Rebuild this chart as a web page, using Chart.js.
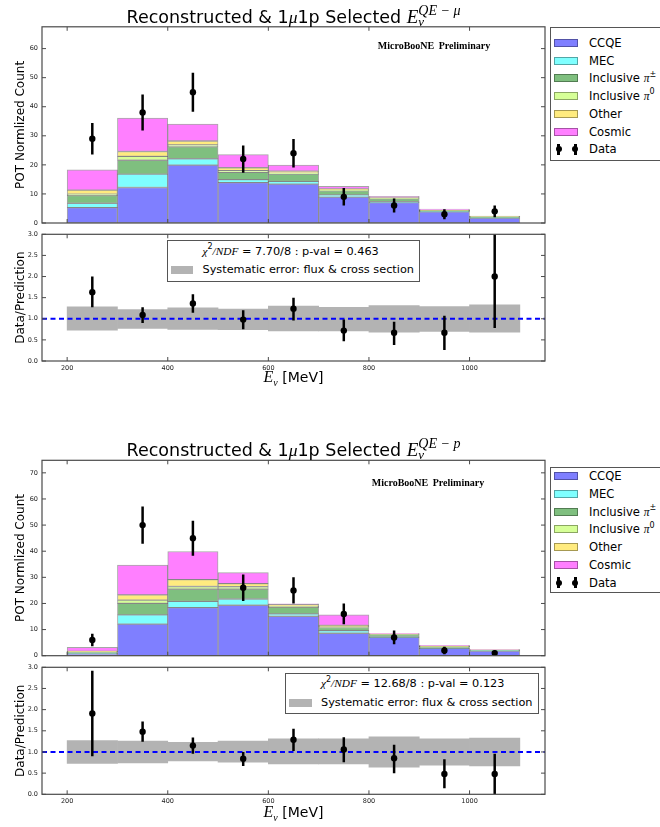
<!DOCTYPE html>
<html>
<head>
<meta charset="utf-8">
<title>Reconstructed &amp; 1μ1p selected neutrino energy</title>
<script src="https://cdn.jsdelivr.net/npm/chart.js@4.4.1/dist/chart.umd.min.js"></script>
<style>
  html, body { margin: 0; padding: 0; background: #fff; }
  body { width: 660px; height: 827px; position: relative; overflow: hidden;
         font-family: 'DejaVu Sans', sans-serif; color: #000; }
  canvas { position: absolute; left: 0; }
  .abs { position: absolute; white-space: nowrap; }
  .mi { font-family: 'Liberation Serif', serif; font-style: italic; }
  .title { left: 42px; width: 503px; text-align: center; font-size: 17.5px; line-height: 20px; }
  .title .E { font-size: 19px; }
  .ss { position: relative; display: inline-block; }
  .ss .sp { position: relative; top: -8px; font-size: 14px; line-height: 0; }
  .ss .sb { position: absolute; left: 0; top: 9px; font-size: 13px; line-height: 12px; }
  .tag { font-family: 'Liberation Serif', serif; font-weight: bold; font-size: 10px; line-height: 12px;
         transform: translate(-50%, -50%); word-spacing: 2px; }
  .box { position: absolute; border: 1px solid #555; background: #fff; box-sizing: border-box; }
  .row { font-size: 11.6px; line-height: 14px; }
  .row.small { font-size: 11.3px; }
  .row sup { font-size: 8px; line-height: 0; position: relative; top: -1px; }
  .patch { position: absolute; box-sizing: border-box; border: 1px solid rgba(0,0,0,0.35); }
  .ebar { position: absolute; width: 2.5px; background: #000; }
  .edot { position: absolute; width: 6px; height: 6px; border-radius: 50%; background: #000; }
  .xt { left: 42px; width: 503px; text-align: center; font-size: 14px; line-height: 16px; }
  .xt .E { font-size: 16px; }
  .xt sub { font-size: 10px; line-height: 0; }
</style>
</head>
<body>
<canvas id="mainMu"></canvas>
<canvas id="ratioMu"></canvas>
<canvas id="mainP"></canvas>
<canvas id="ratioP"></canvas>

<div class="abs title" style="top:7px">Reconstructed &amp; 1<span class="mi">μ</span>1p Selected <span class="mi E">E</span><span class="ss mi"><span class="sp">QE − μ</span><span class="sb">ν</span></span></div>
<div class="abs title" style="top:439.5px">Reconstructed &amp; 1<span class="mi">μ</span>1p Selected <span class="mi E">E</span><span class="ss mi"><span class="sp">QE − p</span><span class="sb">ν</span></span></div>

<div class="abs tag" style="left:434px; top:46px">MicroBooNE Preliminary</div>
<div class="abs tag" style="left:428px; top:482.5px">MicroBooNE Preliminary</div>

<div class="abs xt" style="top:369px"><span class="mi E">E<sub>ν</sub></span> [MeV]</div>
<div class="abs xt" style="top:803.5px"><span class="mi E">E<sub>ν</sub></span> [MeV]</div>

<script>
// ---- bins and axis ticks ----
const binCenters = [250, 350, 450, 550, 650, 750, 850, 950, 1050];
const xRange = [150, 1150];
const xTickValues = [200, 400, 600, 800, 1000];
const countTicksMu = [0, 10, 20, 30, 40, 50, 60];
const countTicksP = [0, 10, 20, 30, 40, 50, 60, 70];
const ratioTicks = [0, 0.5, 1, 1.5, 2, 2.5, 3];
const unity = 1.0;

// ---- E_nu^{QE-mu}: stacked prediction (POT normalized) ----
const muCCQE   = [5.3, 12.2, 19.9, 13.9, 13.4, 8.9, 7.0, 3.8, 1.7];
const muMEC    = [1.5, 4.6, 2.2, 1.0, 0.9, 0.8, 0.3, 0.1, 0.05];
const muPiPM   = [2.6, 4.8, 4.1, 2.5, 2.5, 1.4, 1.0, 0.3, 0.4];
const muPi0    = [0.5, 1.3, 0.7, 0.6, 0.4, 0.3, 0.2, 0.05, 0.05];
const muOther  = [1.4, 1.7, 1.3, 1.0, 0.6, 0.3, 0.2, 0.1, 0.05];
const muCosmic = [7.0, 11.5, 5.8, 4.5, 2.1, 0.9, 0.5, 0.4, 0.1];
const muData    = [29, 38, 45, 22, 24, 9, 6, 3, 4];
const muDataErr = [5.4, 6.2, 6.7, 4.7, 4.9, 3.0, 2.4, 1.7, 2.0];
// data / prediction
const muRatio   = [1.63, 1.09, 1.36, 0.98, 1.24, 0.72, 0.67, 0.67, 2.0];
const muRatioLo = [1.27, 0.90, 1.14, 0.75, 0.96, 0.47, 0.38, 0.26, 0.78];
const muRatioHi = [2.0, 1.27, 1.58, 1.20, 1.50, 0.98, 0.93, 1.07, 3.2];
const muSysLo   = [0.73, 0.77, 0.75, 0.74, 0.71, 0.71, 0.68, 0.70, 0.68];
const muSysHi   = [1.28, 1.22, 1.26, 1.23, 1.30, 1.27, 1.31, 1.29, 1.33];

// ---- E_nu^{QE-p}: stacked prediction (POT normalized) ----
const pCCQE   = [0.7, 12.1, 18.4, 19.3, 15.1, 8.6, 7.0, 2.8, 1.8];
const pMEC    = [0.1, 3.5, 2.4, 2.4, 0.9, 1.0, 0.2, 0.1, 0.05];
const pPiPM   = [0.6, 4.4, 4.7, 3.8, 2.5, 1.2, 0.9, 0.5, 0.3];
const pPi0    = [0.05, 1.3, 1.0, 0.9, 0.4, 0.3, 0.1, 0.05, 0.02];
const pOther  = [0.2, 2.0, 2.6, 1.2, 0.8, 0.5, 0.2, 0.1, 0.03];
const pCosmic = [1.6, 11.4, 10.8, 4.2, 0.2, 4.0, 0.05, 0.4, 0.1];
const pData    = [6, 50, 45, 26, 25, 16, 7, 2, 1];
const pDataErr = [2.4, 7.1, 6.7, 5.1, 5.0, 4.0, 2.6, 1.4, 1.0];
const pRatio   = [1.91, 1.48, 1.15, 0.84, 1.29, 1.06, 0.85, 0.48, 0.48];
const pRatioLo = [0.90, 1.24, 0.96, 0.67, 1.02, 0.76, 0.50, 0.14, 0.0];
const pRatioHi = [2.92, 1.72, 1.34, 1.00, 1.55, 1.35, 1.17, 0.83, 0.96];
const pSysLo   = [0.73, 0.74, 0.79, 0.76, 0.72, 0.72, 0.64, 0.69, 0.67];
const pSysHi   = [1.27, 1.26, 1.23, 1.26, 1.31, 1.31, 1.36, 1.31, 1.33];

// ---- legend text ----
const seriesNames = ['CCQE', 'MEC', 'Inclusive π±', 'Inclusive π0', 'Other', 'Cosmic'];
const legendHtml = ['CCQE', 'MEC', 'Inclusive <span class="mi">π</span><sup>±</sup>',
                    'Inclusive <span class="mi">π</span><sup>0</sup>', 'Other', 'Cosmic', 'Data'];
const chi2Mu = '7.70/8', pvalMu = '0.463';
const chi2P = '12.68/8', pvalP = '0.123';
const sysLabel = 'Systematic error: flux &amp; cross section';

// ---- styles ----
const seriesColors = ['#7f7fff', '#7fffff', '#7fbf7f', '#d6ff97', '#ffeb7f', '#ff7fff'];
const edgeColor = 'rgba(0,0,0,0.35)';
const bandColor = '#b3b3b3';

Chart.defaults.font.family = "'DejaVu Sans', sans-serif";

// axes frame with inward tick marks on all four sides
const frameTicks = {
  id: 'frameTicks',
  afterDraw(chart) {
    const { ctx, chartArea: a, scales: { x, y } } = chart;
    ctx.save();
    ctx.strokeStyle = '#4a4a4a';
    ctx.lineWidth = 1.2;
    ctx.strokeRect(a.left, a.top, a.right - a.left, a.bottom - a.top);
    ctx.lineWidth = 1;
    ctx.beginPath();
    const L = 4;
    x.ticks.forEach(t => {
      const px = x.getPixelForValue(t.value);
      ctx.moveTo(px, a.bottom); ctx.lineTo(px, a.bottom - L);
      ctx.moveTo(px, a.top); ctx.lineTo(px, a.top + L);
    });
    y.ticks.forEach(t => {
      const py = y.getPixelForValue(t.value);
      ctx.moveTo(a.left, py); ctx.lineTo(a.left + L, py);
      ctx.moveTo(a.right, py); ctx.lineTo(a.right - L, py);
    });
    ctx.stroke();
    ctx.restore();
  }
};

// vertical error bars, drawn just before the marker dataset they belong to
const errorBars = {
  id: 'errorBars',
  beforeDatasetDraw(chart, args) {
    const ds = chart.data.datasets[args.index];
    if (!ds.errLo) return;
    const { ctx, chartArea: a, scales: { x, y } } = chart;
    ctx.save();
    ctx.beginPath();
    ctx.rect(a.left, a.top, a.right - a.left, a.bottom - a.top);
    ctx.clip();
    ctx.strokeStyle = '#000';
    ctx.lineWidth = 2.5;
    ctx.beginPath();
    ds.data.forEach((p, i) => {
      const px = x.getPixelForValue(p.x);
      ctx.moveTo(px, y.getPixelForValue(ds.errLo[i]));
      ctx.lineTo(px, y.getPixelForValue(ds.errHi[i]));
    });
    ctx.stroke();
    ctx.restore();
  }
};

function placeCanvas(id, top, height) {
  const cv = document.getElementById(id);
  cv.width = 660; cv.height = height;
  cv.style.top = top + 'px';
  return cv;
}

function xScale(showLabels, axisHeight) {
  return {
    type: 'linear', min: xRange[0], max: xRange[1], offset: false,
    grid: { display: false, drawTicks: false }, border: { display: false },
    ticks: { display: showLabels, font: { size: 6.5, lineHeight: 1 }, color: '#222', padding: 4,
             maxRotation: 0, callback: v => String(v) },
    afterBuildTicks: s => { s.ticks = xTickValues.map(value => ({ value })); },
    afterFit: s => { s.height = axisHeight; }
  };
}

function yScale(max, tickValues, titleText, fmt) {
  return {
    type: 'linear', min: 0, max,
    grid: { display: false, drawTicks: false }, border: { display: false },
    ticks: { font: { size: 6.5, lineHeight: 1 }, color: '#222', padding: 4,
             callback: fmt || (v => String(v)) },
    afterBuildTicks: s => { s.ticks = tickValues.map(value => ({ value })); },
    title: { display: true, text: titleText, color: '#000',
             font: { size: 12 }, padding: { top: 13.5, bottom: 0 } },
    afterFit: s => { s.width = 42; }
  };
}

function histChart(id, top, height, areaTop, areaBottom, stacks, data, dataErr, yMax, yTicks) {
  const cv = placeCanvas(id, top, height);
  const datasets = [{
    type: 'scatter', label: 'Data', stack: 'data', order: 0,
    data: binCenters.map((x, i) => ({ x, y: data[i] })),
    errLo: data.map((v, i) => v - dataErr[i]),
    errHi: data.map((v, i) => v + dataErr[i]),
    pointRadius: 3.2, pointBackgroundColor: '#000', pointBorderWidth: 0
  }];
  stacks.forEach((vals, k) => datasets.push({
    type: 'bar', label: seriesNames[k], stack: 'mc', order: 1,
    data: binCenters.map((x, i) => ({ x, y: vals[i] })),
    backgroundColor: seriesColors[k], borderColor: edgeColor, borderWidth: 1,
    borderSkipped: false, barPercentage: 1, categoryPercentage: 1
  }));
  const xs = xScale(false, top + height - areaBottom);
  xs.stacked = true;
  const ys = yScale(yMax, yTicks, 'POT Normlized Count');
  ys.stacked = true;
  return new Chart(cv, {
    data: { datasets },
    options: {
      responsive: false, animation: false, events: [],
      layout: { padding: { top: areaTop - top, right: 660 - 545, left: 0, bottom: 0 } },
      plugins: { legend: { display: false }, tooltip: { enabled: false } },
      scales: { x: xs, y: ys }
    },
    plugins: [frameTicks, errorBars]
  });
}

function ratioChart(id, top, height, areaTop, areaBottom, ratio, lo, hi, sysLo, sysHi) {
  const cv = placeCanvas(id, top, height);
  const datasets = [
    { type: 'scatter', label: 'Data/Prediction', order: 0,
      data: binCenters.map((x, i) => ({ x, y: ratio[i] })),
      errLo: lo, errHi: hi,
      pointRadius: 3.2, pointBackgroundColor: '#000', pointBorderWidth: 0 },
    { type: 'line', label: 'unity', order: 1,
      data: xRange.map(x => ({ x, y: unity })),
      borderColor: '#0000ff', borderWidth: 2, borderDash: [5, 3.5], pointRadius: 0 },
    { type: 'bar', label: 'Systematic error', order: 2,
      data: binCenters.map((x, i) => ({ x, y: [sysLo[i], sysHi[i]] })),
      backgroundColor: bandColor, borderWidth: 0, barPercentage: 1, categoryPercentage: 1 }
  ];
  return new Chart(cv, {
    data: { datasets },
    options: {
      responsive: false, animation: false, events: [],
      layout: { padding: { top: areaTop - top, right: 660 - 545, left: 0, bottom: 0 } },
      plugins: { legend: { display: false }, tooltip: { enabled: false } },
      scales: {
        x: xScale(true, top + height - areaBottom),
        y: yScale(3, ratioTicks, 'Data/Prediction', v => v.toFixed(1))
      }
    },
    plugins: [frameTicks, errorBars]
  });
}

histChart('mainMu', 0, 232, 26.8, 223,
  [muCCQE, muMEC, muPiPM, muPi0, muOther, muCosmic], muData, muDataErr, 67.5, countTicksMu);
ratioChart('ratioMu', 226, 150, 234.3, 361, muRatio, muRatioLo, muRatioHi, muSysLo, muSysHi);
histChart('mainP', 436, 228, 460.3, 655.7,
  [pCCQE, pMEC, pPiPM, pPi0, pOther, pCosmic], pData, pDataErr, 74.8, countTicksP);
ratioChart('ratioP', 660, 150, 667.3, 794.3, pRatio, pRatioLo, pRatioHi, pSysLo, pSysHi);

// ---- HTML legends ----
function addEl(cls, style, html) {
  const d = document.createElement('div');
  d.className = cls;
  Object.assign(d.style, style);
  if (html) d.innerHTML = html;
  document.body.appendChild(d);
  return d;
}

function mainLegend(boxTop, boxHeight, firstRow, gap) {
  addEl('box', { left: '550px', top: boxTop + 'px', width: '130px', height: boxHeight + 'px' });
  legendHtml.forEach((html, k) => {
    const cy = firstRow + k * gap;
    if (k < seriesColors.length) {
      addEl('patch', { left: '554px', top: (cy - 4) + 'px', width: '24px', height: '8px',
                       background: seriesColors[k] });
    } else {
      [558.7, 575.3].forEach(mx => {
        addEl('ebar', { left: (mx - 1.25) + 'px', top: (cy - 5.5) + 'px', height: '11px' });
        addEl('edot', { left: (mx - 3) + 'px', top: (cy - 3) + 'px' });
      });
    }
    addEl('abs row', { left: '589px', top: (cy - 7) + 'px' }, html);
  });
}
mainLegend(26.7, 134, 43, 17.7);
mainLegend(466.7, 126.7, 476, 17.8);

function ratioLegend(left, top, width, height, row1, row2, textLeft, chi2, pval) {
  addEl('box', { left: left + 'px', top: top + 'px', width: width + 'px', height: height + 'px' });
  addEl('abs row small', { left: textLeft + 'px', top: (row1 - 7) + 'px' },
    '<span class="mi">χ</span><sup>2</sup><span class="mi">/NDF</span> = ' + chi2 + ' : p-val = ' + pval);
  addEl('patch', { left: (left + 4) + 'px', top: (row2 - 4.2) + 'px', width: '22.6px', height: '8.4px',
                   background: bandColor, border: 'none' });
  addEl('abs row small', { left: textLeft + 'px', top: (row2 - 7) + 'px' }, sysLabel);
}
ratioLegend(166.7, 240, 253.3, 41.7, 251, 270, 202.5, chi2Mu, pvalMu);
ratioLegend(285, 673.3, 254.3, 41, 683.3, 702.7, 321, chi2P, pvalP);
</script>
</body>
</html>
